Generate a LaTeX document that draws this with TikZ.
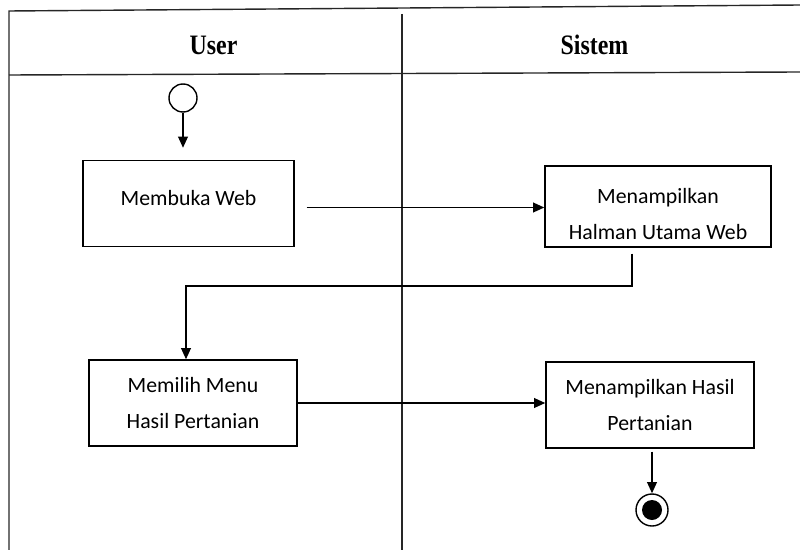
\documentclass[tikz,border=0pt]{standalone}
\usepackage{fontspec}
\setmainfont{Carlito}
\newfontfamily\headfont[FakeStretch=0.85]{Liberation Serif}
\usetikzlibrary{positioning,arrows.meta}

\begin{document}
\begin{tikzpicture}[
        x=0.025cm, y=-0.025cm,
        >={Triangle[length=8pt,width=7pt]},
        % Styles
        lane/.style={line width=1pt, color=black!85},
        lanehead/.style={font=\headfont\bfseries\fontsize{20}{22}\selectfont},
        action/.style={draw, line width=1pt, align=center, inner sep=0pt, font=\fontsize{15.5}{20}\selectfont},
        initial/.style={circle, draw, line width=1pt, minimum size=0.7cm, inner sep=0pt},
        final/.style={circle, draw, line width=1pt, minimum size=0.8cm, inner sep=0pt},
        flow/.style={->, line width=1pt}
    ]
    \useasboundingbox (0,0) rectangle (800,550);

    % ================= SWIMLANES =================
    \draw[lane] (9,550) -- (9,11) -- (800,5);
    \draw[lane] (9,75) -- (800,72);
    \draw[lane] (402,14) -- (402,550);
    \node[lanehead] (user) at (213.5,45) {User};
    \node[lanehead] (sistem) at (594.5,45) {Sistem};

    % ================= ACTIVITIES =================
    % struts push the text up or down inside its box
    \node[initial] (mulai) at (183,98) {};
    \node[action, minimum width=5.275cm, minimum height=2.15cm] (buka) at (188.5,203.5) {Membuka Web\rule[-0.3cm]{0pt}{0.3cm}};
    \node[action, minimum width=5.65cm, minimum height=2.025cm] (tampil) at (658,206.5) {\rule{0pt}{0.75cm}Menampilkan\\[5pt]Halman Utama Web};
    \node[action, minimum width=5.2cm, minimum height=2.15cm] (pilih) at (193,403) {Memilih Menu\\[5pt]Hasil Pertanian};
    \node[action, minimum width=5.2cm, minimum height=2.15cm] (hasil) at (650,405) {Menampilkan Hasil\\[5pt]Pertanian};
    \node[final] (selesai) at (652,510) {};
    \fill (selesai) circle (0.25cm);

    % ================= FLOWS =================
    \coordinate (belok) at (632,286);
    \draw[flow, shorten >=0.3cm] (mulai) -- (mulai |- buka.north);
    \draw[flow, shorten <=0.3cm] ([yshift=-0.1cm]buka.east) -- ([yshift=-0.1cm]buka.east -| tampil.west);
    \draw[flow, shorten <=0.15cm] (tampil.south -| belok) -- (belok) -| ([xshift=-0.175cm]pilih.north);
    \draw[flow] (pilih.east) -- (pilih.east -| hasil.west);
    \draw[flow, shorten <=0.075cm] (hasil.south -| selesai) -- (selesai);

\end{tikzpicture}
\end{document}
